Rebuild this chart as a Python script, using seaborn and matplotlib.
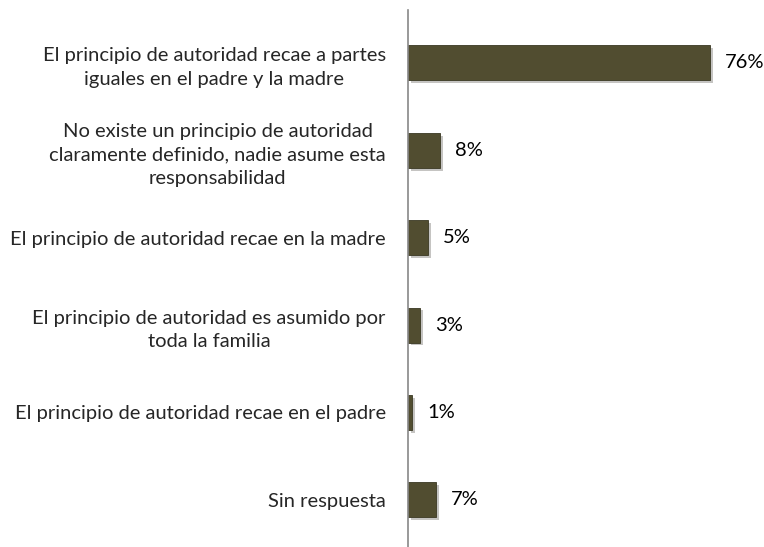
import matplotlib
matplotlib.use('Agg')
import matplotlib.pyplot as plt
import matplotlib.patheffects as pe
import pandas as pd
import seaborn as sns

categories = [
    'El principio de autoridad recae a partes\niguales en el padre y la madre',
    'No existe un principio de autoridad\nclaramente definido, nadie asume esta\nresponsabilidad',
    'El principio de autoridad recae en la madre',
    'El principio de autoridad es asumido por\ntoda la familia',
    'El principio de autoridad recae en el padre',
    'Sin respuesta',
]
values = [76, 8, 5, 3, 1, 7]
labels = ['76%', '8%', '5%', '3%', '1%', '7%']

df = pd.DataFrame({'cat': categories, 'val': values})

sns.set_style('white')
plt.rcParams['font.family'] = ['Lato', 'DejaVu Sans']

fig = plt.figure(figsize=(7.64, 5.47), dpi=100)
ax = fig.add_axes([408 / 764, 0, 1 - 408 / 764, 537 / 547])

sns.barplot(data=df, x='val', y='cat', color='#514d30', saturation=1,
            width=0.4, ax=ax, orient='h')

# bevel-ish look: thin dark edge plus a soft shadow
for p in ax.patches:
    p.set_edgecolor('#3a3822')
    p.set_linewidth(0.6)
    p.set_path_effects([pe.SimplePatchShadow(offset=(2, -2), alpha=0.25),
                        pe.Normal()])

for i, (v, lab) in enumerate(zip(values, labels)):
    ax.text(v + 3.8, i, lab, va='center', ha='left', fontsize=14.5, color='#000000')

ax.set_xlim(0, 89.6)
ax.set_ylim(5.54, -0.606)
ax.set_xlabel('')
ax.set_ylabel('')
ax.set_xticks([])
ax.set_yticks(range(len(categories)))
ax.set_yticklabels(categories, fontsize=14.5, multialignment='center',
                   linespacing=1.45)
ax.tick_params(axis='y', length=0, pad=16)

for s in ['top', 'right', 'bottom']:
    ax.spines[s].set_visible(False)
ax.spines['left'].set_color('#888888')
ax.spines['left'].set_linewidth(1.2)

fig.savefig('out.png', dpi=100)
